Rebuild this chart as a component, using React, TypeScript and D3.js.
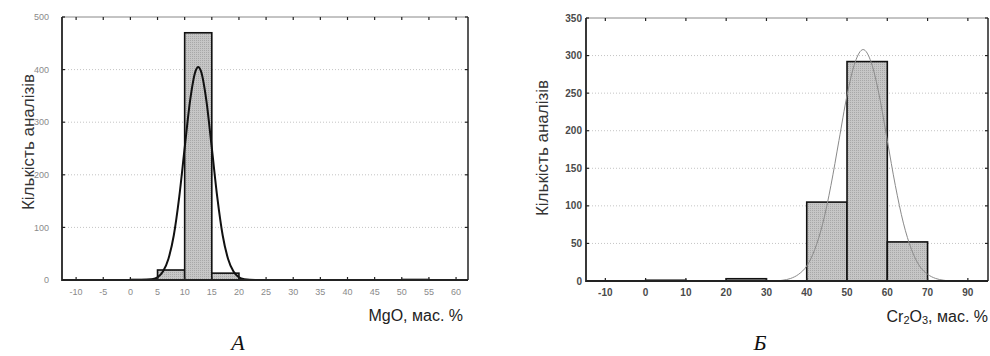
import React from "react";
import * as d3 from "d3";

// --- data ---
const mgoBinLow = [0, 5, 10, 15, 50];
const mgoCounts = [1, 19, 470, 13, 1];
const mgoBinWidth = 5;
const mgoCurveX = [-12.5, 2, 4, 5, 6, 7, 8, 9, 10, 11, 12, 12.5, 13, 14, 15, 16, 17, 18, 19, 20, 21, 23, 62.5];
const mgoCurveY = [0, 0, 1.6, 5, 16, 40, 85, 158, 251, 341, 397, 405, 397, 341, 251, 158, 85, 40, 16, 5, 1.6, 0, 0];
const mgoXTicks = [-10, -5, 0, 5, 10, 15, 20, 25, 30, 35, 40, 45, 50, 55, 60];
const mgoYTicks = [0, 100, 200, 300, 400, 500];

const crBinLow = [0, 20, 40, 50, 60];
const crCounts = [1, 3, 105, 292, 52];
const crBinWidth = 10;
const crCurveX = [-15, 32, 34, 36, 38, 40, 42, 44, 46, 48, 50, 52, 54, 56, 58, 60, 62, 64, 66, 68, 70, 72, 74, 76, 85];
const crCurveY = [0, 0, 1, 3.4, 9, 20, 42, 77, 127, 187, 247, 291, 308, 291, 247, 187, 127, 77, 42, 20, 9, 3.4, 1, 0, 0];
const crXTicks = [-10, 0, 10, 20, 30, 40, 50, 60, 70, 80];
const crXTickLabels = ["-10", "0", "10", "20", "30", "40", "50", "60", "70", "90"];
const crYTicks = [0, 50, 100, 150, 200, 250, 300, 350];

const yTitle = "Кількість аналізів";

type PanelProps = {
  id: string;
  left: number; right: number; top: number; bottom: number;
  xDomain: [number, number]; yDomain: [number, number];
  binLow: number[]; counts: number[]; binWidth: number;
  curveX: number[]; curveY: number[];
  xTicks: number[]; xTickLabels?: string[]; yTicks: number[];
  tickFont: number; tickColor: string; tickWeight: string; yLabelGap: number;
  curveColor: string; curveWidth: number;
  yTitleX: number; yTitleY: number;
};

function Panel(p: PanelProps) {
  const x = d3.scaleLinear().domain(p.xDomain).range([p.left, p.right]);
  const y = d3.scaleLinear().domain(p.yDomain).range([p.bottom, p.top]);
  const pts: [number, number][] = p.curveX.map((v, i) => [v, p.curveY[i]]);
  const line = d3.line<[number, number]>()
    .x(d => x(d[0]))
    .y(d => y(d[1]))
    .curve(d3.curveMonotoneX);
  return (
    <g>
      <defs>
        <clipPath id={`clip-${p.id}`}>
          <rect x={p.left} y={p.top} width={p.right - p.left} height={p.bottom - p.top} />
        </clipPath>
      </defs>
      {/* grid */}
      {p.yTicks.slice(1, -1).map(t => (
        <line key={t} x1={p.left} x2={p.right} y1={y(t)} y2={y(t)}
          stroke="#c4c4c4" strokeWidth={1} strokeDasharray="1,2" />
      ))}
      {/* bars */}
      {p.binLow.map((b, i) => (
        <rect key={b} x={x(b)} y={y(p.counts[i])} width={x(b + p.binWidth) - x(b)}
          height={y(0) - y(p.counts[i])} fill="url(#stipple)" stroke="#111" strokeWidth={1.6} />
      ))}
      {/* fitted curve */}
      <path d={line(pts) || ""} fill="none" stroke={p.curveColor} strokeWidth={p.curveWidth}
        clipPath={`url(#clip-${p.id})`} />
      {/* frame */}
      <line x1={p.left} x2={p.right} y1={p.top} y2={p.top} stroke="#888" strokeWidth={1} />
      <line x1={p.right} x2={p.right} y1={p.top} y2={p.bottom} stroke="#222" strokeWidth={1.5} />
      <line x1={p.left} x2={p.left} y1={p.top} y2={p.bottom + 1} stroke="#222" strokeWidth={1.8} />
      <line x1={p.left} x2={p.right} y1={p.bottom} y2={p.bottom} stroke="#222" strokeWidth={1.8} />
      {/* inner ticks */}
      {p.xTicks.map(t => (
        <g key={t}>
          <line x1={x(t)} x2={x(t)} y1={p.top} y2={p.top + 3} stroke="#222" strokeWidth={1.2} />
          <line x1={x(t)} x2={x(t)} y1={p.bottom} y2={p.bottom - 3} stroke="#222" strokeWidth={1.2} />
        </g>
      ))}
      {p.yTicks.map(t => (
        <g key={t}>
          <line x1={p.left} x2={p.left + 3} y1={y(t)} y2={y(t)} stroke="#222" strokeWidth={1.2} />
          <line x1={p.right} x2={p.right - 3} y1={y(t)} y2={y(t)} stroke="#222" strokeWidth={1.2} />
        </g>
      ))}
      {/* tick labels */}
      <g fontFamily="Arial, 'Liberation Sans', sans-serif" fontSize={p.tickFont}
        fill={p.tickColor} fontWeight={p.tickWeight}>
        {p.xTicks.map((t, i) => (
          <text key={t} x={x(t)} y={p.bottom + 15} textAnchor="middle">
            {p.xTickLabels ? p.xTickLabels[i] : String(t)}
          </text>
        ))}
        {p.yTicks.map(t => (
          <text key={t} x={p.left - p.yLabelGap} y={y(t)} dy="0.35em" textAnchor="end">{t}</text>
        ))}
      </g>
      <text transform={`translate(${p.yTitleX},${p.yTitleY}) rotate(-90)`} textAnchor="middle"
        dy="0.35em" fontFamily="Arial, 'Liberation Sans', sans-serif" fontSize={17} fill="#333">
        {yTitle}
      </text>
    </g>
  );
}

export default function App() {
  return (
    <svg width={990} height={356} style={{ position: "absolute", left: 0, top: 0, background: "#fff" }}>
      <defs>
        <pattern id="stipple" width={2} height={2} patternUnits="userSpaceOnUse">
          <rect width={2} height={2} fill="#c6c6c6" />
          <rect width={1} height={1} fill="#a8a8a8" />
        </pattern>
      </defs>
      <Panel id="a" left={62} right={468} top={17} bottom={280}
        xDomain={[-12.6, 62.2]} yDomain={[0, 500]}
        binLow={mgoBinLow} counts={mgoCounts} binWidth={mgoBinWidth}
        curveX={mgoCurveX} curveY={mgoCurveY}
        xTicks={mgoXTicks} yTicks={mgoYTicks}
        tickFont={9} tickColor="#8a8a8a" tickWeight="normal" yLabelGap={13}
        curveColor="#111" curveWidth={2} yTitleX={28} yTitleY={142} />
      <Panel id="b" left={586} right={988} top={18} bottom={281}
        xDomain={[-14.8, 85]} yDomain={[0, 350]}
        binLow={crBinLow} counts={crCounts} binWidth={crBinWidth}
        curveX={crCurveX} curveY={crCurveY}
        xTicks={crXTicks} xTickLabels={crXTickLabels} yTicks={crYTicks}
        tickFont={10} tickColor="#4a4a4a" tickWeight="bold" yLabelGap={4}
        curveColor="#8a8a8a" curveWidth={1} yTitleX={542} yTitleY={148} />
      <g fontFamily="Arial, 'Liberation Sans', sans-serif" fontSize={16} fill="#222" textAnchor="end">
        <text x={463} y={321}>MgO, мас. %</text>
        <text x={988} y={322}>
          Cr<tspan fontSize={11} dy={2}>2</tspan><tspan dy={-2}>O</tspan><tspan fontSize={11} dy={2}>3</tspan><tspan dy={-2}>, мас. %</tspan>
        </text>
      </g>
      <g fontFamily="'Liberation Serif', 'DejaVu Serif', serif" fontStyle="italic" fontSize={22} fill="#111" textAnchor="middle">
        <text x={238} y={350}>А</text>
        <text x={760} y={350}>Б</text>
      </g>
    </svg>
  );
}
